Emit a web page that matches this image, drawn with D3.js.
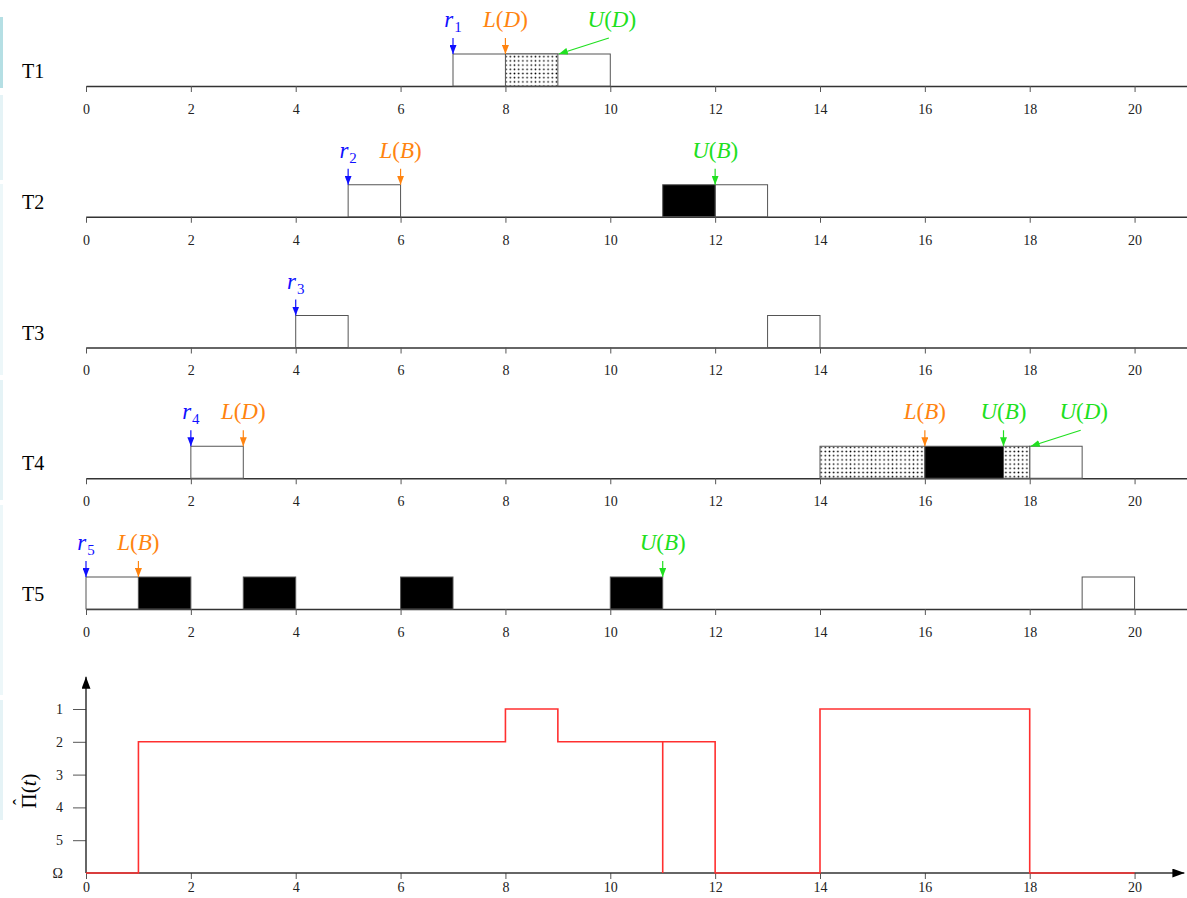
<!DOCTYPE html>
<html>
<head>
<meta charset="utf-8">
<script src="https://cdn.jsdelivr.net/npm/d3@7"></script>
<style>
  body { margin: 0; background: #fff; }
  svg { display: block; font-family: "Liberation Serif", "DejaVu Serif", serif; }
  .tick text { fill: #222; }
  .tick line { stroke: #555; }
</style>
</head>
<body>
<svg width="1187" height="898"></svg>
<script>
// ---- data ----
const tasks = ['T1', 'T2', 'T3', 'T4', 'T5']
const xTicks = [0, 2, 4, 6, 8, 10, 12, 14, 16, 18, 20]

// [task, start, end]
const execBlocks = [
    ['T1', 7, 10], ['T2', 5, 6], ['T2', 12, 13], ['T3', 4, 5], ['T3', 13, 14],
    ['T4', 2, 3], ['T4', 18, 19], ['T5', 0, 1], ['T5', 19, 20]
]
const blockedBlocks = [
    ['T2', 11, 12], ['T4', 16, 17.5], ['T5', 1, 2], ['T5', 3, 4], ['T5', 6, 7], ['T5', 10, 11]
]
const dottedBlocks = [
    ['T1', 8, 9], ['T4', 14, 16], ['T4', 17.5, 18]
]

// [task, time, resource / index, diagonal]
const releases = [['T1', 7, '1'], ['T2', 5, '2'], ['T3', 4, '3'], ['T4', 2, '4'], ['T5', 0, '5']]
const lockMarks = [['T1', 8, 'D'], ['T2', 6, 'B'], ['T4', 3, 'D'], ['T4', 16, 'B'], ['T5', 1, 'B']]
const unlockMarks = [['T1', 9, 'D', true], ['T2', 12, 'B', false], ['T4', 17.5, 'B', false], ['T4', 18, 'D', true], ['T5', 11, 'B', false]]

// priority ceiling, 6 = Ω
const levelTimes = [0, 1, 8, 9, 12, 14, 18, 20]
const levelValues = [6, 2, 1, 2, 6, 1, 6, 6]
const levelDrops = [[11, 2]]
const levelTicks = [1, 2, 3, 4, 5, 6]

const sideBands = [[17, 88, '#b5dfe4'], [95, 180, '#e5f3f6'], [184, 375, '#edf7f9'], [380, 500, '#e5f3f6'], [505, 695, '#edf7f9'], [700, 820, '#e5f3f6']]

const BLUE = '#1010ff', ORANGE = '#ff8410', GREEN = '#20e020', RED = '#ff3030'
const SERIF = '"Liberation Serif", serif'

const svg = d3.select('svg')
const defs = svg.append('defs')

const pat = defs.append('pattern').attr('id', 'dots')
    .attr('patternUnits', 'userSpaceOnUse').attr('width', 4.2).attr('height', 4.2)
pat.append('rect').attr('width', 4.2).attr('height', 4.2).attr('fill', '#fff')
pat.append('circle').attr('cx', 2.1).attr('cy', 2.1).attr('r', 0.85).attr('fill', '#000')

function arrowHead(id, color, w, h) {
    defs.append('marker').attr('id', id)
        .attr('markerUnits', 'userSpaceOnUse')
        .attr('viewBox', `0 0 ${h} ${w}`)
        .attr('refX', h).attr('refY', w / 2)
        .attr('markerWidth', h).attr('markerHeight', w)
        .attr('orient', 'auto')
        .append('path').attr('d', `M0,0L${h},${w / 2}L0,${w}Z`).attr('fill', color)
}
arrowHead('a-blue', BLUE, 7, 9)
arrowHead('a-orange', ORANGE, 7, 9)
arrowHead('a-green', GREEN, 7, 9)
arrowHead('a-black', '#000', 9, 12)

svg.append('g').selectAll('rect').data(sideBands).join('rect')
    .attr('x', 0).attr('width', 3)
    .attr('y', d => d[0]).attr('height', d => d[1] - d[0])
    .attr('fill', d => d[2])

const x = d3.scaleLinear().domain([0, 21]).range([86, 1187])
const row = d3.scalePoint().domain(tasks).range([86, 609])
const boxH = 32

// ---- task rows ----
tasks.forEach(t => {
    const g = svg.append('g').attr('transform', `translate(0,${row(t)})`)
    g.call(d3.axisBottom(x).tickValues(xTicks).tickSize(6).tickSizeOuter(0).tickPadding(12))
    g.attr('font-family', SERIF).attr('font-size', 14)
    g.select('.domain').attr('stroke', '#333').attr('stroke-width', 1.5)
    svg.append('text').attr('x', 22).attr('y', row(t) - 8)
        .attr('font-size', 20).text(t)
})

function drawBlocks(data, fill) {
    svg.append('g').selectAll('rect').data(data).join('rect')
        .attr('x', d => x(d[1]))
        .attr('width', d => x(d[2]) - x(d[1]))
        .attr('y', d => row(d[0]) - boxH)
        .attr('height', boxH)
        .attr('fill', fill)
        .attr('stroke', '#555').attr('stroke-width', 1)
}
drawBlocks(execBlocks, '#fff')
drawBlocks(dottedBlocks, 'url(#dots)')
drawBlocks(blockedBlocks, '#000')

// label text with italic letters and upright brackets
function label(sel, parts) {
    parts.forEach(p => {
        const ts = sel.append('tspan').text(p[0])
        if (p[1] === 'i') ts.attr('font-style', 'italic')
        if (p[1] === 'sub') ts.attr('font-size', 15).attr('dy', 5).attr('dx', 1)
    })
}

function marker(task, t, parts, color, mk, diagonal) {
    const base = row(task)
    const top = base - boxH
    const lx = diagonal ? x(t) + 54 : x(t)
    const ly = base - 59
    const txt = svg.append('text').attr('x', lx).attr('y', ly)
        .attr('text-anchor', 'middle').attr('font-size', 23).attr('fill', color)
    label(txt, parts)
    if (diagonal) {
        svg.append('line').attr('x1', lx - 3).attr('y1', ly + 11)
            .attr('x2', x(t) + 1).attr('y2', top)
            .attr('stroke', color).attr('stroke-width', 1.2).attr('marker-end', `url(#${mk})`)
    } else {
        svg.append('line').attr('x1', x(t)).attr('y1', base - 48)
            .attr('x2', x(t)).attr('y2', top)
            .attr('stroke', color).attr('stroke-width', 1.2).attr('marker-end', `url(#${mk})`)
    }
}

releases.forEach(d => marker(d[0], d[1], [['r', 'i'], [d[2], 'sub']], BLUE, 'a-blue', false))
lockMarks.forEach(d => marker(d[0], d[1], [['L', 'i'], ['(', ''], [d[2], 'i'], [')', '']], ORANGE, 'a-orange', false))
unlockMarks.forEach(d => marker(d[0], d[1], [['U', 'i'], ['(', ''], [d[2], 'i'], [')', '']], GREEN, 'a-green', d[3]))

// ---- priority ceiling chart ----
const y = d3.scaleLinear().domain([1, 6]).range([709, 873])

const gx = svg.append('g').attr('transform', `translate(0,${y(6)})`)
    .call(d3.axisBottom(x).tickValues(xTicks).tickSize(6).tickSizeOuter(0).tickPadding(3))
    .attr('font-family', SERIF).attr('font-size', 14)
gx.select('.domain').remove()
svg.append('line').attr('x1', x(0)).attr('x2', x(20.95)).attr('y1', y(6)).attr('y2', y(6))
    .attr('stroke', '#333').attr('stroke-width', 1.5).attr('marker-end', 'url(#a-black)')

const gy = svg.append('g').attr('transform', `translate(${x(0)},0)`)
    .call(d3.axisLeft(y).tickValues(levelTicks).tickSize(13).tickPadding(10)
        .tickFormat(d => d === 6 ? 'Ω' : d))
    .attr('font-family', SERIF).attr('font-size', 14)
gy.select('.domain').remove()
gy.selectAll('.tick').filter(d => d === 6).select('line').remove()
svg.append('line').attr('x1', x(0)).attr('x2', x(0)).attr('y1', y(6)).attr('y2', y(0.02))
    .attr('stroke', '#333').attr('stroke-width', 1.5).attr('marker-end', 'url(#a-black)')

const yl = svg.append('g').attr('transform', `translate(36,${y(3.5)}) rotate(-90)`)
yl.append('text').attr('text-anchor', 'middle').attr('font-size', 21)
    .call(s => label(s, [['Π', ''], ['(', ''], ['t', 'i'], [')', '']]))
yl.append('text').attr('x', -11).attr('y', -10).attr('text-anchor', 'middle')
    .attr('font-size', 18).text('ˆ')

const steps = levelTimes.map((t, i) => [t, levelValues[i]])
svg.append('path').datum(steps)
    .attr('d', d3.line().x(d => x(d[0])).y(d => y(d[1])).curve(d3.curveStepAfter))
    .attr('fill', 'none').attr('stroke', RED).attr('stroke-width', 1.6)
svg.append('g').selectAll('line').data(levelDrops).join('line')
    .attr('x1', d => x(d[0])).attr('x2', d => x(d[0]))
    .attr('y1', d => y(d[1])).attr('y2', y(6))
    .attr('stroke', RED).attr('stroke-width', 1.6)
</script>
</body>
</html>
